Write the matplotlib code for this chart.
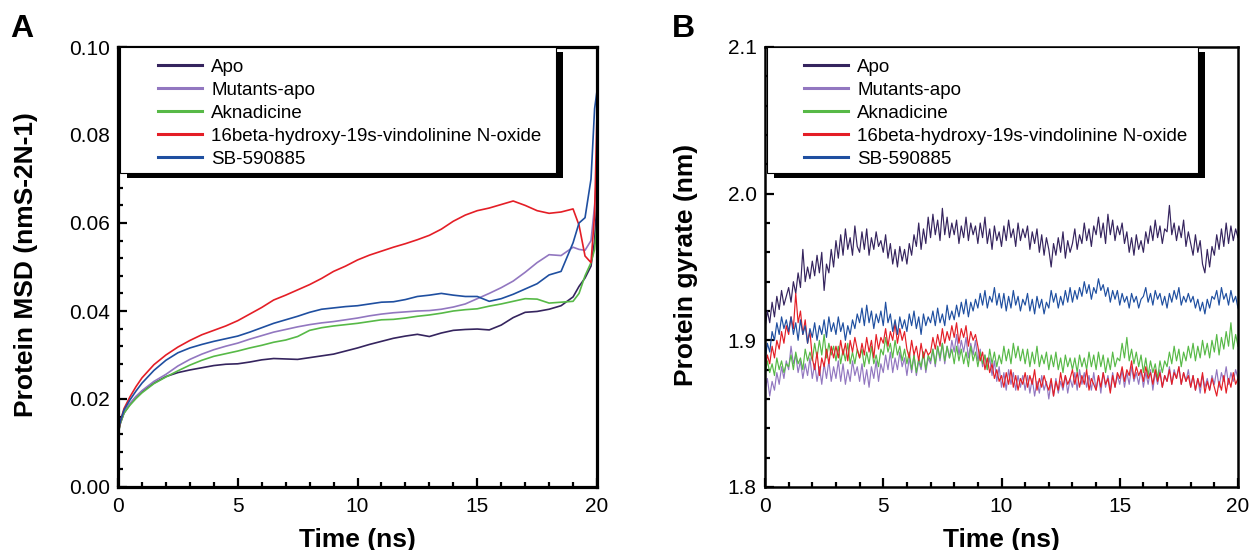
import numpy as np
import matplotlib
matplotlib.use("Agg")
import matplotlib.pyplot as plt
from matplotlib.patches import Rectangle
from matplotlib.ticker import MultipleLocator, FormatStrFormatter

plt.rcParams['font.family'] = ['Liberation Sans', 'DejaVu Sans']

# ---------------- data ----------------
labels = ["Apo", "Mutants-apo", "Aknadicine",
          "16beta-hydroxy-19s-vindolinine N-oxide", "SB-590885"]
colors = ["#35245e", "#9277c0", "#57b947", "#e41e26", "#1f4fa0"]

# Panel A: MSD (time in ns)
t_msd = [0, 0.1, 0.25, 0.5, 0.75, 1.0, 1.5, 2.0, 2.5, 3.0, 3.5, 4.0, 4.5, 5.0,
         5.5, 6.0, 6.5, 7.0, 7.5, 8.0, 8.5, 9.0, 9.5, 10.0, 10.5, 11.0, 11.5,
         12.0, 12.5, 13.0, 13.5, 14.0, 14.5, 15.0, 15.5, 16.0, 16.5, 17.0, 17.5,
         18.0, 18.5, 19.0, 19.25, 19.5, 19.75, 19.9, 20.0]
msd_apo = [.0120, .0145, .0168, .0188, .0204, .0217,
           .0236, .0251, .0260, .0266, .0271, .0276, .0279, .0280, .0284, .0289,
           .0292, .0291, .0290, .0294, .0298, .0302, .0309, .0316, .0324, .0331,
           .0338, .0343, .0347, .0342, .0350, .0356, .0358,
           .0359, .0357, .0368, .0385, .0397, .0399, .0404, .0412, .0432, .0456,
           .0475, .0502, .0560, .0650]
msd_mut = [.0125, .0148, .0170, .0190, .0206, .0219,
           .0240, .0256, .0275, .0290, .0302, .0312, .0320, .0327, .0336, .0344,
           .0352, .0358, .0364, .0369, .0373, .0376, .0380, .0384, .0389, .0393,
           .0396, .0398, .0400, .0401, .0404, .0409, .0416,
           .0428, .0440, .0453, .0468, .0488, .0510, .0528, .0526, .0545, .0540,
           .0538, .0560, .0640, .0720]
msd_akn = [.0120, .0145, .0168, .0186, .0201, .0214,
           .0235, .0250, .0264, .0277, .0288, .0297, .0303, .0309, .0316, .0322,
           .0329, .0334, .0342, .0356, .0362, .0366, .0369, .0372, .0376, .0380,
           .0381, .0384, .0388, .0391, .0395, .0400, .0403,
           .0405, .0411, .0416, .0422, .0428, .0427, .0418, .0420, .0422, .0440,
           .0480, .0510, .0540, .0600]
msd_vin = [.0120, .0150, .0178, .0205, .0228, .0248,
           .0278, .0300, .0318, .0333, .0346, .0356, .0366, .0378, .0393, .0408,
           .0425, .0436, .0448, .0460, .0474, .0490, .0502, .0516, .0527, .0536,
           .0545, .0553, .0562, .0572, .0586, .0604, .0618,
           .0628, .0634, .0642, .0650, .0640, .0628, .0622, .0625, .0632, .0595,
           .0525, .0510, .0620, .0850]
msd_sb = [.0125, .0150, .0175, .0198, .0218, .0236,
          .0265, .0288, .0305, .0316, .0324, .0331, .0337, .0343, .0352, .0362,
          .0372, .0380, .0388, .0397, .0404, .0407, .0410, .0412, .0416, .0420,
          .0421, .0426, .0433, .0436, .0440, .0436, .0433,
          .0433, .0422, .0428, .0438, .0450, .0462, .0482, .0490, .0555, .0600,
          .0612, .0700, .0860, .0900]

# Panel B: radius of gyration (nm), sampled every 0.1 ns from 0 to 20
t_rg = np.linspace(0, 20, 201)
rg_apo = [
    1.908, 1.920, 1.912, 1.926, 1.916, 1.930, 1.921, 1.934, 1.924, 1.930,
    1.936, 1.926, 1.940, 1.932, 1.946, 1.936, 1.962, 1.940, 1.950, 1.942,
    1.954, 1.944, 1.958, 1.946, 1.960, 1.934, 1.952, 1.946, 1.962, 1.950,
    1.968, 1.956, 1.972, 1.958, 1.976, 1.962, 1.970, 1.958, 1.978, 1.964,
    1.960, 1.974, 1.962, 1.976, 1.958, 1.970, 1.962, 1.974, 1.964, 1.968,
    1.960, 1.972, 1.956, 1.966, 1.952, 1.962, 1.950, 1.964, 1.954, 1.962,
    1.952, 1.966, 1.958, 1.972, 1.964, 1.980, 1.962, 1.976, 1.966, 1.984,
    1.970, 1.986, 1.972, 1.982, 1.968, 1.990, 1.972, 1.984, 1.970, 1.980,
    1.972, 1.982, 1.966, 1.978, 1.970, 1.984, 1.968, 1.980, 1.972, 1.978,
    1.966, 1.980, 1.970, 1.984, 1.966, 1.976, 1.962, 1.978, 1.968, 1.974,
    1.964, 1.978, 1.968, 1.982, 1.970, 1.976, 1.964, 1.980, 1.968, 1.976,
    1.970, 1.978, 1.962, 1.974, 1.966, 1.976, 1.960, 1.972, 1.958, 1.970,
    1.962, 1.950, 1.966, 1.958, 1.970, 1.960, 1.974, 1.956, 1.968, 1.960,
    1.966, 1.976, 1.962, 1.972, 1.966, 1.980, 1.968, 1.976, 1.964, 1.978,
    1.972, 1.984, 1.970, 1.980, 1.966, 1.986, 1.972, 1.982, 1.968, 1.978,
    1.972, 1.980, 1.966, 1.974, 1.960, 1.970, 1.958, 1.972, 1.962, 1.968,
    1.960, 1.974, 1.966, 1.978, 1.968, 1.982, 1.970, 1.978, 1.966, 1.976,
    1.974, 1.992, 1.972, 1.980, 1.968, 1.978, 1.970, 1.982, 1.964, 1.974,
    1.966, 1.958, 1.972, 1.960, 1.968, 1.952, 1.946, 1.962, 1.950, 1.964,
    1.958, 1.972, 1.962, 1.976, 1.964, 1.980, 1.966, 1.978, 1.968, 1.976,
    1.970]
rg_mut = [
    1.866, 1.874, 1.862, 1.872, 1.866, 1.878, 1.870, 1.882, 1.874, 1.886,
    1.880, 1.896, 1.884, 1.890, 1.878, 1.886, 1.874, 1.884, 1.876, 1.888,
    1.874, 1.884, 1.872, 1.882, 1.870, 1.884, 1.874, 1.886, 1.872, 1.882,
    1.874, 1.886, 1.872, 1.884, 1.870, 1.880, 1.872, 1.886, 1.876, 1.882,
    1.872, 1.884, 1.870, 1.880, 1.868, 1.882, 1.874, 1.886, 1.872, 1.884,
    1.878, 1.890, 1.880, 1.892, 1.878, 1.888, 1.880, 1.892, 1.882, 1.888,
    1.876, 1.888, 1.878, 1.890, 1.876, 1.886, 1.880, 1.892, 1.878, 1.888,
    1.884, 1.894, 1.882, 1.896, 1.886, 1.898, 1.884, 1.896, 1.888, 1.900,
    1.892, 1.904, 1.890, 1.900, 1.892, 1.902, 1.888, 1.898, 1.890, 1.900,
    1.886, 1.894, 1.882, 1.890, 1.880, 1.888, 1.876, 1.886, 1.872, 1.882,
    1.868, 1.878, 1.866, 1.880, 1.870, 1.878, 1.866, 1.876, 1.868, 1.876,
    1.866, 1.876, 1.864, 1.874, 1.862, 1.872, 1.864, 1.876, 1.866, 1.872,
    1.860, 1.872, 1.862, 1.874, 1.864, 1.872, 1.866, 1.876, 1.864, 1.874,
    1.868, 1.878, 1.866, 1.880, 1.870, 1.878, 1.868, 1.876, 1.866, 1.878,
    1.866, 1.876, 1.864, 1.878, 1.868, 1.876, 1.866, 1.878, 1.868, 1.876,
    1.870, 1.880, 1.868, 1.878, 1.870, 1.882, 1.872, 1.878, 1.870, 1.880,
    1.868, 1.878, 1.870, 1.880, 1.866, 1.878, 1.870, 1.880, 1.868, 1.876,
    1.872, 1.882, 1.870, 1.880, 1.874, 1.882, 1.870, 1.878, 1.872, 1.880,
    1.868, 1.876, 1.866, 1.874, 1.864, 1.876, 1.868, 1.874, 1.866, 1.876,
    1.870, 1.880, 1.868, 1.878, 1.872, 1.882, 1.870, 1.878, 1.872, 1.880,
    1.874]
rg_akn = [
    1.876, 1.886, 1.878, 1.884, 1.876, 1.888, 1.880, 1.886, 1.878, 1.884,
    1.882, 1.890, 1.880, 1.892, 1.884, 1.888, 1.880, 1.894, 1.886, 1.892,
    1.886, 1.898, 1.888, 1.900, 1.890, 1.904, 1.888, 1.898, 1.890, 1.896,
    1.886, 1.896, 1.884, 1.894, 1.886, 1.898, 1.884, 1.892, 1.884, 1.894,
    1.888, 1.894, 1.882, 1.892, 1.884, 1.896, 1.884, 1.890, 1.882, 1.894,
    1.890, 1.902, 1.892, 1.898, 1.888, 1.900, 1.890, 1.896, 1.886, 1.894,
    1.884, 1.892, 1.880, 1.890, 1.878, 1.888, 1.882, 1.892, 1.880, 1.890,
    1.886, 1.894, 1.884, 1.896, 1.888, 1.898, 1.886, 1.896, 1.888, 1.894,
    1.884, 1.896, 1.886, 1.894, 1.884, 1.892, 1.882, 1.896, 1.886, 1.892,
    1.882, 1.892, 1.884, 1.890, 1.880, 1.894, 1.884, 1.892, 1.882, 1.890,
    1.884, 1.896, 1.886, 1.894, 1.884, 1.898, 1.888, 1.896, 1.886, 1.894,
    1.884, 1.894, 1.882, 1.892, 1.884, 1.896, 1.882, 1.890, 1.884, 1.892,
    1.880, 1.890, 1.882, 1.892, 1.880, 1.888, 1.878, 1.890, 1.882, 1.888,
    1.880, 1.888, 1.878, 1.890, 1.882, 1.888, 1.880, 1.892, 1.882, 1.890,
    1.880, 1.892, 1.882, 1.890, 1.878, 1.888, 1.880, 1.892, 1.882, 1.888,
    1.886, 1.898, 1.888, 1.902, 1.886, 1.894, 1.884, 1.892, 1.882, 1.890,
    1.878, 1.888, 1.876, 1.886, 1.878, 1.884, 1.874, 1.886, 1.878, 1.886,
    1.882, 1.892, 1.884, 1.896, 1.886, 1.894, 1.882, 1.892, 1.886, 1.896,
    1.888, 1.898, 1.886, 1.896, 1.888, 1.900, 1.890, 1.898, 1.888, 1.900,
    1.892, 1.904, 1.890, 1.902, 1.894, 1.906, 1.896, 1.912, 1.894, 1.904,
    1.896]
rg_vin = [
    1.880, 1.890, 1.884, 1.896, 1.888, 1.900, 1.894, 1.906, 1.898, 1.910,
    1.904, 1.916, 1.908, 1.932, 1.912, 1.920, 1.904, 1.914, 1.898, 1.906,
    1.888, 1.880, 1.892, 1.876, 1.888, 1.882, 1.894, 1.884, 1.896, 1.888,
    1.896, 1.888, 1.900, 1.890, 1.898, 1.886, 1.900, 1.892, 1.902, 1.894,
    1.888, 1.898, 1.890, 1.902, 1.892, 1.900, 1.888, 1.904, 1.894, 1.902,
    1.898, 1.908, 1.896, 1.906, 1.900, 1.912, 1.898, 1.908, 1.900, 1.906,
    1.894, 1.888, 1.900, 1.890, 1.896, 1.886, 1.898, 1.888, 1.894, 1.890,
    1.892, 1.902, 1.894, 1.904, 1.896, 1.908, 1.898, 1.906, 1.900, 1.910,
    1.902, 1.912, 1.898, 1.908, 1.902, 1.910, 1.896, 1.906, 1.900, 1.904,
    1.896, 1.886, 1.892, 1.880, 1.888, 1.878, 1.884, 1.874, 1.880, 1.872,
    1.876, 1.868, 1.878, 1.870, 1.880, 1.868, 1.876, 1.866, 1.874, 1.870,
    1.878, 1.868, 1.876, 1.870, 1.880, 1.866, 1.874, 1.868, 1.876, 1.870,
    1.866, 1.874, 1.862, 1.872, 1.866, 1.878, 1.868, 1.876, 1.870, 1.874,
    1.880, 1.870, 1.878, 1.868, 1.876, 1.870, 1.880, 1.866, 1.874, 1.870,
    1.866, 1.876, 1.868, 1.878, 1.870, 1.874, 1.864, 1.876, 1.868, 1.878,
    1.874, 1.882, 1.872, 1.880, 1.876, 1.886, 1.874, 1.882, 1.876, 1.880,
    1.872, 1.882, 1.874, 1.878, 1.870, 1.880, 1.872, 1.878, 1.868, 1.876,
    1.872, 1.880, 1.870, 1.878, 1.874, 1.882, 1.870, 1.878, 1.872, 1.876,
    1.868, 1.876, 1.866, 1.874, 1.868, 1.878, 1.864, 1.872, 1.866, 1.874,
    1.868, 1.862, 1.872, 1.866, 1.876, 1.864, 1.874, 1.868, 1.878, 1.870,
    1.874]
rg_sb = [
    1.886, 1.898, 1.892, 1.906, 1.900, 1.912, 1.904, 1.916, 1.908, 1.914,
    1.906, 1.916, 1.904, 1.912, 1.900, 1.914, 1.904, 1.910, 1.898, 1.908,
    1.902, 1.912, 1.900, 1.910, 1.904, 1.914, 1.902, 1.916, 1.906, 1.912,
    1.904, 1.916, 1.906, 1.912, 1.900, 1.910, 1.904, 1.914, 1.908, 1.918,
    1.912, 1.922, 1.910, 1.924, 1.912, 1.920, 1.908, 1.918, 1.912, 1.920,
    1.910, 1.926, 1.912, 1.918, 1.906, 1.914, 1.904, 1.916, 1.908, 1.914,
    1.906, 1.918, 1.910, 1.920, 1.908, 1.916, 1.904, 1.918, 1.910, 1.916,
    1.912, 1.920, 1.910, 1.922, 1.912, 1.918, 1.910, 1.924, 1.914, 1.920,
    1.914, 1.924, 1.916, 1.926, 1.918, 1.928, 1.916, 1.926, 1.920, 1.928,
    1.922, 1.932, 1.924, 1.934, 1.922, 1.930, 1.926, 1.936, 1.924, 1.932,
    1.922, 1.932, 1.920, 1.930, 1.922, 1.934, 1.924, 1.930, 1.920, 1.928,
    1.924, 1.932, 1.920, 1.928, 1.918, 1.930, 1.922, 1.928, 1.918, 1.926,
    1.922, 1.934, 1.926, 1.932, 1.922, 1.930, 1.924, 1.934, 1.926, 1.936,
    1.926, 1.934, 1.928, 1.936, 1.930, 1.940, 1.932, 1.938, 1.928, 1.936,
    1.932, 1.942, 1.934, 1.938, 1.930, 1.936, 1.926, 1.934, 1.928, 1.934,
    1.924, 1.932, 1.926, 1.930, 1.922, 1.932, 1.926, 1.930, 1.922, 1.928,
    1.930, 1.936, 1.926, 1.932, 1.924, 1.934, 1.928, 1.932, 1.924, 1.930,
    1.922, 1.932, 1.926, 1.934, 1.928, 1.936, 1.924, 1.930, 1.926, 1.932,
    1.926, 1.930, 1.922, 1.928, 1.920, 1.926, 1.918, 1.928, 1.922, 1.930,
    1.928, 1.934, 1.924, 1.936, 1.928, 1.932, 1.924, 1.934, 1.926, 1.930,
    1.922]

msd_series = [msd_apo, msd_mut, msd_akn, msd_vin, msd_sb]
rg_series = [rg_apo, rg_mut, rg_akn, rg_vin, rg_sb]

# ---------------- figure ----------------
W, H = 1251, 550
fig = plt.figure(figsize=(W / 100, H / 100), dpi=100)


def px_axes(x0, x1, y_top, y_bot):
    return fig.add_axes([x0 / W, 1 - y_bot / H, (x1 - x0) / W, (y_bot - y_top) / H])


axA = px_axes(118, 597, 47, 487)
axB = px_axes(765, 1238, 47, 487)

for s, c, lab in zip(msd_series, colors, labels):
    axA.plot(t_msd, s, color=c, lw=1.2, label=lab)
for s, c, lab in zip(rg_series, colors, labels):
    axB.plot(t_rg, s, color=c, lw=0.85, label=lab)

axA.set_xlim(0, 20)
axA.set_ylim(0, 0.10)
axA.yaxis.set_major_locator(MultipleLocator(0.02))
axA.yaxis.set_minor_locator(MultipleLocator(0.004))
axA.yaxis.set_major_formatter(FormatStrFormatter('%.2f'))

axB.set_xlim(0, 20)
axB.set_ylim(1.8, 2.1)
axB.yaxis.set_major_locator(MultipleLocator(0.1))
axB.yaxis.set_minor_locator(MultipleLocator(0.02))
axB.yaxis.set_major_formatter(FormatStrFormatter('%.1f'))

for ax, slw in ((axA, 2.3), (axB, 1.8)):
    ax.xaxis.set_major_locator(MultipleLocator(5))
    ax.xaxis.set_minor_locator(MultipleLocator(1))
    for sp in ax.spines.values():
        sp.set_linewidth(slw)
    ax.tick_params(which='both', direction='in', top=False, right=False,
                   width=1.6, labelsize=15)
    ax.tick_params(which='major', length=6.5)
    ax.tick_params(which='minor', length=3.5)
    ax.tick_params(axis='y', pad=6)
    ax.tick_params(axis='x', pad=7)
    ax.set_xlabel('Time (ns)', fontsize=19, fontweight='bold')
    ax.xaxis.set_label_coords(0.5, -0.093)

axA.set_ylabel('Protein MSD (nmS-2N-1)', fontsize=19, fontweight='bold')
axA.yaxis.set_label_coords(-0.167, 0.505)
axB.set_ylabel('Protein gyrate (nm)', fontsize=19, fontweight='bold')
axB.yaxis.set_label_coords(-0.141, 0.505)

# legends with drop-shadow frames
for ax, w_px, right_px, hx_px in ((axA, 479, 438, 40), (axB, 473, 433, 39)):
    x0, x1 = 2 / w_px, right_px / w_px
    y0, y1 = (487 - 173) / 440, 1.0
    dx, dy = 7 / w_px, -5 / 440
    ax.add_patch(Rectangle((x0 + dx, y0 + dy), x1 - x0, y1 - y0, transform=ax.transAxes,
                           facecolor='black', edgecolor='black', lw=0, zorder=4,
                           clip_on=False))
    ax.add_patch(Rectangle((x0, y0), x1 - x0, y1 - y0, transform=ax.transAxes,
                           facecolor='white', edgecolor='black', lw=0.8, zorder=4.5,
                           clip_on=False))
    leg = ax.legend(loc='upper left', bbox_to_anchor=(hx_px / w_px, 0.973),
                    frameon=False, borderaxespad=0, borderpad=0,
                    handlelength=2.35, handletextpad=0.48, labelspacing=0.31,
                    fontsize=13.5)
    leg.set_zorder(5)
    for ln in leg.get_lines():
        ln.set_linewidth(2.2)

fig.text(10 / W, 1 - 14 / H, 'A', fontsize=23, fontweight='bold', va='top', ha='left')
fig.text(672 / W, 1 - 14 / H, 'B', fontsize=23, fontweight='bold', va='top', ha='left')

fig.savefig('out.png', dpi=100)
